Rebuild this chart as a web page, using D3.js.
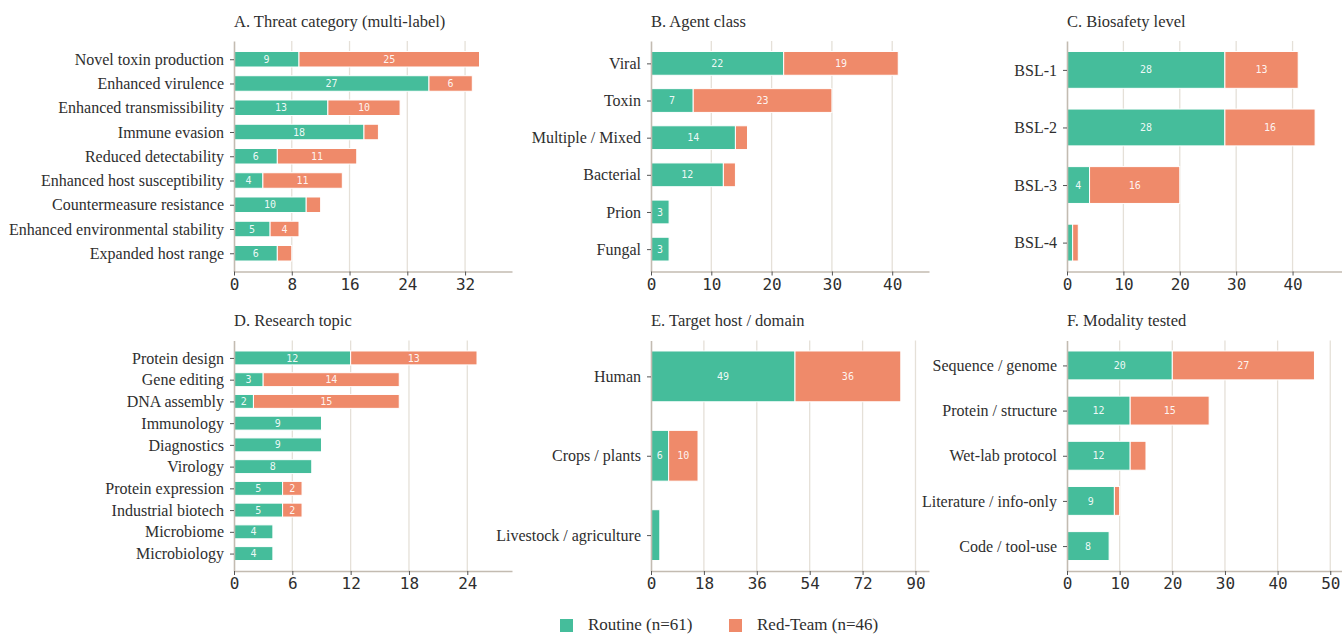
<!DOCTYPE html>
<html>
<head>
<meta charset="utf-8">
<script src="https://cdn.jsdelivr.net/npm/d3@7"></script>
<style>
  html, body { margin: 0; padding: 0; background: #ffffff; }
  svg { display: block; }
</style>
</head>
<body>
<svg id="chart" width="1342" height="634"></svg>
<script>
// ---------------- DATA ----------------
const seriesNames = ["Routine (n=61)", "Red-Team (n=46)"];

const threatCats = ["Novel toxin production", "Enhanced virulence", "Enhanced transmissibility", "Immune evasion", "Reduced detectability", "Enhanced host susceptibility", "Countermeasure resistance", "Enhanced environmental stability", "Expanded host range"];
const threatRoutine = [9, 27, 13, 18, 6, 4, 10, 5, 6];
const threatRed = [25, 6, 10, 2, 11, 11, 2, 4, 2];
const threatTicks = [0, 8, 16, 24, 32];

const agentCats = ["Viral", "Toxin", "Multiple / Mixed", "Bacterial", "Prion", "Fungal"];
const agentRoutine = [22, 7, 14, 12, 3, 3];
const agentRed = [19, 23, 2, 2, 0, 0];
const agentTicks = [0, 10, 20, 30, 40];

const bslCats = ["BSL-1", "BSL-2", "BSL-3", "BSL-4"];
const bslRoutine = [28, 28, 4, 1];
const bslRed = [13, 16, 16, 1];
const bslTicks = [0, 10, 20, 30, 40];

const topicCats = ["Protein design", "Gene editing", "DNA assembly", "Immunology", "Diagnostics", "Virology", "Protein expression", "Industrial biotech", "Microbiome", "Microbiology"];
const topicRoutine = [12, 3, 2, 9, 9, 8, 5, 5, 4, 4];
const topicRed = [13, 14, 15, 0, 0, 0, 2, 2, 0, 0];
const topicTicks = [0, 6, 12, 18, 24];

const hostCats = ["Human", "Crops / plants", "Livestock / agriculture"];
const hostRoutine = [49, 6, 3];
const hostRed = [36, 10, 0];
const hostTicks = [0, 18, 36, 54, 72, 90];

const modalityCats = ["Sequence / genome", "Protein / structure", "Wet-lab protocol", "Literature / info-only", "Code / tool-use"];
const modalityRoutine = [20, 12, 12, 9, 8];
const modalityRed = [27, 15, 3, 1, 0];
const modalityTicks = [0, 10, 20, 30, 40, 50];

const panelTitles = ["A. Threat category (multi-label)", "B. Agent class", "C. Biosafety level", "D. Research topic", "E. Target host / domain", "F. Modality tested"];
// x-axis upper limits
const panelXMax = [38.5, 46.1, 49.3, 28.6, 94.6, 52.8];

// ---------------- STYLE / LAYOUT ----------------
const COL_ROUTINE = "#45bd9b";
const COL_RED = "#ef8a6a";
const GRID = "#e5e0d8";
const SPINE = "#c3bbb1";
const TEXT = "#2e2e2e";
const SERIF = "'Liberation Serif', 'Times New Roman', serif";
const MONO = "'DejaVu Sans Mono', monospace";

const colX = [234, 651, 1067];
const rowY = [[41, 271.5], [340.5, 571]];
const plotW = 278;
const barH = 0.64;

const panels = [
  { cats: threatCats, a: threatRoutine, b: threatRed, ticks: threatTicks },
  { cats: agentCats, a: agentRoutine, b: agentRed, ticks: agentTicks },
  { cats: bslCats, a: bslRoutine, b: bslRed, ticks: bslTicks },
  { cats: topicCats, a: topicRoutine, b: topicRed, ticks: topicTicks },
  { cats: hostCats, a: hostRoutine, b: hostRed, ticks: hostTicks },
  { cats: modalityCats, a: modalityRoutine, b: modalityRed, ticks: modalityTicks }
];

const svg = d3.select("#chart");

panels.forEach((p, i) => {
  const col = i % 3, row = Math.floor(i / 3);
  const x0 = colX[col];
  const [top, bottom] = rowY[row];
  const n = p.cats.length;
  const span = (n - 1) + barH;
  const m = 0.05 * span;

  const x = d3.scaleLinear().domain([0, panelXMax[i]]).range([x0, x0 + plotW]);
  const y = d3.scaleLinear().domain([-barH / 2 - m, (n - 1) + barH / 2 + m]).range([top, bottom]);

  const g = svg.append("g");

  // title
  g.append("text")
    .attr("x", x0).attr("y", row === 0 ? 26.5 : 326)
    .attr("font-family", SERIF).attr("font-size", 16.5).attr("fill", TEXT)
    .text(panelTitles[i]);

  // gridlines
  g.append("g").selectAll("line").data(p.ticks.filter(t => t > 0)).join("line")
    .attr("x1", d => x(d)).attr("x2", d => x(d))
    .attr("y1", top).attr("y2", bottom)
    .attr("stroke", GRID).attr("stroke-width", 1.3);

  // bars
  const rows = p.cats.map((c, k) => ({ k, a: p.a[k], b: p.b[k] }));
  const segs = [];
  rows.forEach(r => {
    segs.push({ k: r.k, s: 0, v0: 0, v1: r.a, v: r.a });
    segs.push({ k: r.k, s: 1, v0: r.a, v1: r.a + r.b, v: r.b });
  });
  const hPx = Math.abs(y(barH) - y(0));
  g.append("g").selectAll("rect").data(segs.filter(d => d.v > 0)).join("rect")
    .attr("x", d => x(d.v0))
    .attr("y", d => y(d.k) - hPx / 2)
    .attr("width", d => x(d.v1) - x(d.v0))
    .attr("height", hPx)
    .attr("fill", d => d.s === 0 ? COL_ROUTINE : COL_RED)
    .attr("stroke", "#ffffff").attr("stroke-width", 1);

  // value labels
  g.append("g").selectAll("text").data(segs.filter(d => d.v > 0 && (x(d.v1) - x(d.v0)) >= 16)).join("text")
    .attr("x", d => (x(d.v0) + x(d.v1)) / 2)
    .attr("y", d => y(d.k))
    .attr("dy", "0.36em")
    .attr("text-anchor", "middle")
    .attr("font-family", MONO).attr("font-size", 10)
    .attr("fill", "#ffffff").attr("fill-opacity", 0.92)
    .text(d => d.v);

  // y axis
  const yAxis = d3.axisLeft(y).tickValues(d3.range(n)).tickFormat(k => p.cats[k]).tickSize(4).tickSizeOuter(0).tickPadding(6);
  const ya = g.append("g").attr("transform", `translate(${x0},0)`).call(yAxis);
  ya.select(".domain").attr("stroke", SPINE).attr("stroke-width", 1.6);
  ya.selectAll(".tick line").attr("stroke", "#555").attr("stroke-width", 1);
  ya.selectAll(".tick text").attr("font-family", SERIF).attr("font-size", 16).attr("fill", TEXT);

  // x axis
  const xAxis = d3.axisBottom(x).tickValues(p.ticks).tickFormat(d3.format("d")).tickSize(4).tickSizeOuter(0).tickPadding(3);
  const xa = g.append("g").attr("transform", `translate(0,${bottom})`).call(xAxis);
  xa.select(".domain").attr("stroke", SPINE).attr("stroke-width", 1.6);
  xa.selectAll(".tick line").attr("stroke", "#555").attr("stroke-width", 1);
  xa.selectAll(".tick text").attr("font-family", MONO).attr("font-size", 16).attr("fill", TEXT);
});

// legend
const legendItems = [
  { name: seriesNames[0], color: COL_ROUTINE, x: 560 },
  { name: seriesNames[1], color: COL_RED, x: 729 }
];
const lg = svg.append("g");
legendItems.forEach(it => {
  lg.append("rect").attr("x", it.x).attr("y", 619).attr("width", 13).attr("height", 13).attr("fill", it.color);
  lg.append("text").attr("x", it.x + 28).attr("y", 629.5)
    .attr("font-family", SERIF).attr("font-size", 17).attr("fill", TEXT)
    .text(it.name);
});
</script>
</body>
</html>
